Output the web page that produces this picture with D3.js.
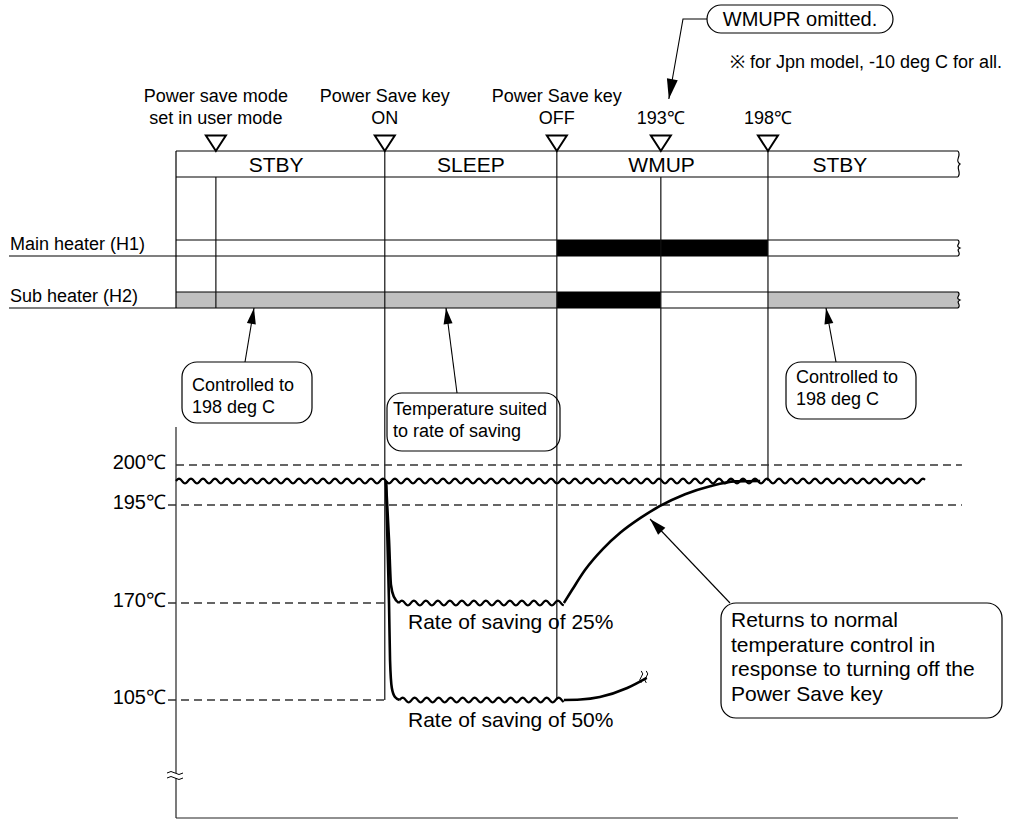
<!DOCTYPE html>
<html><head><meta charset="utf-8">
<script src="https://cdn.jsdelivr.net/npm/d3@7"></script>
<style>
body{margin:0;background:#fff;}
svg text{font-family:"Liberation Sans",Arial,Helvetica,sans-serif;fill:#000;}
</style></head>
<body><svg id="chart" width="1024" height="820"></svg>
<script>
// ---------------- data ----------------
const eventTimes = [5.1, 26.7, 48.7, 62.0, 75.7];
const eventLine1 = ["Power save mode", "Power Save key", "Power Save key", "", ""];
const eventLine2 = ["set in user mode", "ON", "OFF", "193℃", "198℃"];
const eventLineTopRow = [1, 0, 0, 1, 0];            // 0 = status top, 1 = status bottom
const eventLineEndTemp = [null, 105, 105, 195, 198]; // null = ends at heater rows

const statusNames = ["STBY", "SLEEP", "WMUP", "STBY"];
const statusLabelT = [12.8, 37.7, 62.1, 84.9];

const heaterNames = ["Main heater (H1)", "Sub heater (H2)"];
const mainHeaterFrom = [0, 48.7, 75.7];
const mainHeaterTo = [48.7, 75.7, 100];
const mainHeaterState = ["off", "on", "off"];
const subHeaterFrom = [0, 48.7, 62.0, 75.7];
const subHeaterTo = [48.7, 62.0, 75.7, 100];
const subHeaterState = ["ctrl", "on", "off", "ctrl"];

const tempTicks = [200, 195, 170, 105];
const tempTickLabels = ["200℃", "195℃", "170℃", "105℃"];
const tempTickEndT = [100.5, 100.5, 26.7, 26.7];

const controlLevels = [198, 170, 105];
const controlFromT = [0, 28.5, 28.6];
const controlToT = [95.8, 49.6, 49.6];

const drop25T = [26.85, 27.24, 27.49, 27.88, 28.5];
const drop25V = [198, 186.1, 174.6, 171.5, 170];
const rise25T = [49.6, 50.64, 52.3, 54.6, 56.8, 59.4, 61.9, 65.1, 68.3, 71.5, 74.7];
const rise25V = [170, 173.3, 178.4, 183.8, 187.9, 191.7, 194.75, 196.35, 197.35, 197.95, 198];
const drop50T = [26.85, 27.1, 27.24, 27.37, 27.6, 28.0, 28.6];
const drop50V = [198, 181, 170, 131.8, 113, 107, 105];
const rise50T = [49.6, 51.7, 54.2, 57.7, 60.2];
const rise50V = [105, 105.3, 107, 113, 119.8];

const seriesLabels = ["Rate of saving of 25%", "Rate of saving of 50%"];
const noteText = "※ for Jpn model, -10 deg C for all.";
const wmuprText = "WMUPR omitted.";
const callout1 = ["Controlled to", "198 deg C"];
const callout2 = ["Temperature suited", "to rate of saving"];
const callout3 = ["Controlled to", "198 deg C"];
const callout4 = ["Returns to normal", "temperature control in", "response to turning off the", "Power Save key"];

// ---------------- scales ----------------
const x = d3.scaleLinear().domain([0, 100]).range([176, 958]);
const y = d3.scaleLinear().domain([105, 170, 195, 200]).range([700, 603, 505, 465]);

const svg = d3.select("#chart");

const statusTop = 151, statusBot = 177;
const rowTop = [240, 292], rowBot = [256, 308];
const rightX = x(100);

function line(g, x1, y1, x2, y2, w = 1.2, col = "#000", dash = null) {
  const l = g.append("line").attr("x1", x1).attr("y1", y1).attr("x2", x2).attr("y2", y2)
    .attr("stroke", col).attr("stroke-width", w);
  if (dash) l.attr("stroke-dasharray", dash);
  return l;
}
function arrowHead(g, x1, y1, x2, y2, len = 15, hw = 4.5) {
  const a = Math.atan2(y2 - y1, x2 - x1);
  const bx = x2 - len * Math.cos(a), by = y2 - len * Math.sin(a);
  const px = -Math.sin(a) * hw, py = Math.cos(a) * hw;
  g.append("path").attr("d", `M${x2},${y2}L${bx + px},${by + py}L${bx - px},${by - py}Z`).attr("fill", "#000");
}
function squiggle(g, xx, top, bot) {
  const h = bot - top;
  g.append("path").attr("d",
    `M${xx},${top} C${xx + 4},${top + h * 0.2} ${xx - 4},${top + h * 0.35} ${xx + 2},${top + h * 0.5} C${xx - 3},${top + h * 0.65} ${xx + 4},${top + h * 0.8} ${xx},${bot}`)
    .attr("fill", "none").attr("stroke", "#000").attr("stroke-width", 1.2);
}
function textLines(g, lines, tx, ty0, dy, size, anchor = "start") {
  lines.forEach((s, i) => g.append("text").attr("x", tx).attr("y", ty0 + i * dy)
    .attr("font-size", size).attr("text-anchor", anchor).text(s));
}
function callout(g, bx, by, bw, bh, lines, tx, ty0, dy, lx1, ly1, lx2, ly2) {
  g.append("rect").attr("x", bx).attr("y", by).attr("width", bw).attr("height", bh)
    .attr("rx", 15).attr("ry", 15).attr("fill", "none").attr("stroke", "#000").attr("stroke-width", 1.2);
  textLines(g, lines, tx, ty0, dy, 18);
  line(g, lx1, ly1, lx2, ly2, 1.1);
  arrowHead(g, lx1, ly1, lx2, ly2, 16, 4.5);
}

// ---------------- timing chart ----------------
const gT = svg.append("g");
const fillOf = { off: "#fff", on: "#000", ctrl: "#c0c0c0" };
[[mainHeaterFrom, mainHeaterTo, mainHeaterState], [subHeaterFrom, subHeaterTo, subHeaterState]]
  .forEach(([fr, to, st], r) => {
    fr.forEach((f, i) => {
      gT.append("rect").attr("x", x(f)).attr("y", rowTop[r]).attr("width", x(to[i]) - x(f))
        .attr("height", rowBot[r] - rowTop[r]).attr("fill", fillOf[st[i]]);
    });
    line(gT, x(0), rowTop[r], rightX, rowTop[r]);
    line(gT, 9, rowBot[r], rightX, rowBot[r]);
    squiggle(gT, rightX, rowTop[r], rowBot[r]);
    gT.append("text").attr("x", 10).attr("y", rowBot[r] - 6).attr("font-size", 18).text(heaterNames[r]);
  });

// status row
line(gT, x(0), statusTop, rightX, statusTop);
line(gT, x(0), statusBot, rightX, statusBot);
squiggle(gT, rightX, statusTop, statusBot);
line(gT, x(0), statusTop, x(0), rowBot[1]);
statusNames.forEach((s, i) => gT.append("text").attr("x", x(statusLabelT[i])).attr("y", statusBot - 5)
  .attr("font-size", 21).attr("text-anchor", "middle").text(s));

// event lines, triangles, labels
eventTimes.forEach((t, i) => {
  const ex = x(t);
  const y1 = eventLineTopRow[i] ? statusBot : statusTop;
  const y2 = eventLineEndTemp[i] == null ? rowBot[1] : y(eventLineEndTemp[i]);
  line(gT, ex, y1, ex, y2, 1.2, "#111");
  gT.append("path").attr("d", `M${ex - 10},${statusTop - 15.5}L${ex + 10},${statusTop - 15.5}L${ex},${statusTop}Z`)
    .attr("fill", "#fff").attr("stroke", "#000").attr("stroke-width", 2).attr("stroke-linejoin", "miter");
  if (eventLine1[i]) gT.append("text").attr("x", ex).attr("y", 102).attr("font-size", 18)
    .attr("text-anchor", "middle").text(eventLine1[i]);
  gT.append("text").attr("x", ex).attr("y", 124).attr("font-size", 18)
    .attr("text-anchor", "middle").text(eventLine2[i]);
});

// note and WMUPR box
gT.append("text").attr("x", 730).attr("y", 68).attr("font-size", 18).text(noteText);
const wb = { x: 707, y: 5, w: 186, h: 28 };
gT.append("rect").attr("x", wb.x).attr("y", wb.y).attr("width", wb.w).attr("height", wb.h)
  .attr("rx", 14).attr("ry", 14).attr("fill", "#fff").attr("stroke", "#000").attr("stroke-width", 1.2);
gT.append("text").attr("x", wb.x + wb.w / 2).attr("y", wb.y + 21).attr("font-size", 20)
  .attr("text-anchor", "middle").text(wmuprText);
gT.append("path").attr("d", `M${wb.x},19 L683,19 L${x(eventTimes[3]) + 8},99`)
  .attr("fill", "none").attr("stroke", "#000").attr("stroke-width", 1.1);
arrowHead(gT, 683, 19, x(eventTimes[3]) + 8, 99, 20, 5.5);

// callouts
callout(gT, 182, 362, 130, 61, callout1, 192, 391, 22, 245, 362, 254, rowBot[1]);
callout(gT, 387, 393, 173, 58, callout2, 393, 415, 22, 457, 393, 446, rowBot[1]);
callout(gT, 786, 362, 130, 57, callout3, 796, 383, 22, 836, 362, 826, rowBot[1]);

// ---------------- temperature chart ----------------
const gC = svg.append("g");
line(gC, x(0), 427, x(0), 818, 1.2, "#222");
line(gC, x(0), 818, x(100), 818, 1.2, "#222");
// axis break
gC.append("rect").attr("x", 170).attr("y", 773).attr("width", 12).attr("height", 5).attr("fill", "#fff");
[773, 778].forEach(yy => gC.append("path")
  .attr("d", `M167,${yy} q4,-3 8,0 t8,0`).attr("fill", "none").attr("stroke", "#000").attr("stroke-width", 1));

tempTicks.forEach((v, i) => {
  const startX = i === 0 ? x(0) : 168;
  line(gC, startX, y(v), x(tempTickEndT[i]), y(v), 1.3, "#333", "8,5");
  gC.append("text").attr("x", 166).attr("y", y(v) + 4).attr("font-size", 20)
    .attr("text-anchor", "end").text(tempTickLabels[i]);
});

// controlled (rippled) levels
const wave = d3.line();
controlLevels.forEach((v, i) => {
  const x0 = x(controlFromT[i]), x1 = x(controlToT[i]);
  const pts = d3.range(x0, x1 + 0.01, 1).map(px => [px, y(v) - 2.3 * Math.sin(2 * Math.PI * (px - x0) / 12)]);
  gC.append("path").attr("d", wave(pts)).attr("fill", "none").attr("stroke", "#000").attr("stroke-width", 2.2);
});

// transitions
const curve = d3.line().x(d => x(d[0])).y(d => y(d[1])).curve(d3.curveMonotoneX);
[[drop25T, drop25V], [rise25T, rise25V], [drop50T, drop50V], [rise50T, rise50V]].forEach(([ts, vs]) => {
  gC.append("path").attr("d", curve(ts.map((t, i) => [t, vs[i]])))
    .attr("fill", "none").attr("stroke", "#000").attr("stroke-width", 2.6);
});
// break mark at end of 50% curve
{
  const ex = x(rise50T[rise50T.length - 1]), ey = y(rise50V[rise50V.length - 1]);
  [-2.5, 2.5].forEach(o => gC.append("path")
    .attr("d", `M${ex - 3 + o},${ey - 7} q3,3 0,6 t0,6`).attr("fill", "none").attr("stroke", "#000").attr("stroke-width", 1));
}

gC.append("text").attr("x", 408).attr("y", y(170) + 26).attr("font-size", 21).text(seriesLabels[0]);
gC.append("text").attr("x", 408).attr("y", y(105) + 27).attr("font-size", 21).text(seriesLabels[1]);

// returns callout
gC.append("rect").attr("x", 721).attr("y", 603).attr("width", 281).attr("height", 115)
  .attr("rx", 15).attr("ry", 15).attr("fill", "none").attr("stroke", "#000").attr("stroke-width", 1.2);
callout4.forEach((s, i) => gC.append("text").attr("x", 731).attr("y", 627 + i * 24.6).attr("font-size", 21).text(s));
line(gC, 730, 603, 650, 519, 1.1);
arrowHead(gC, 730, 603, 650, 519, 17, 5);
</script></body></html>
